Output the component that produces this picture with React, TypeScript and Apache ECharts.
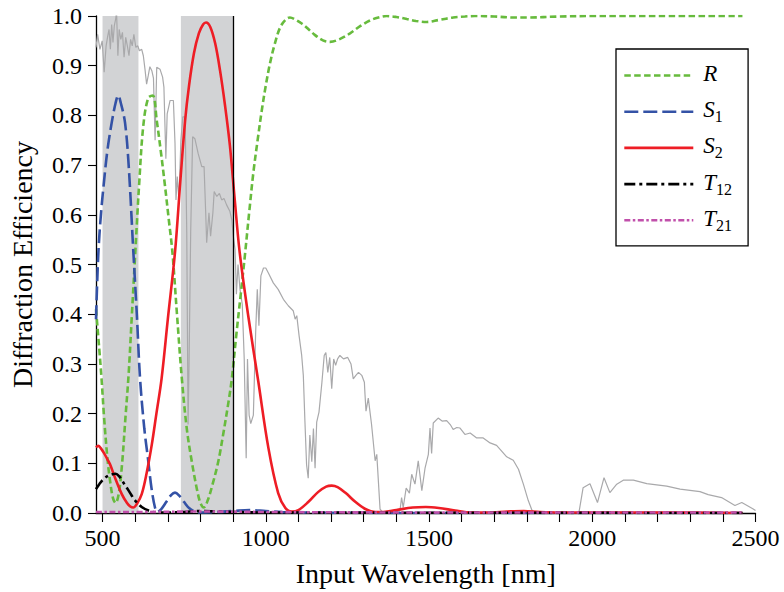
import React, { useEffect, useRef } from "react";
import * as echarts from "echarts";

// ---- tick values ----
const xTickValues = [500, 600, 700, 800, 900, 1000, 1100, 1200, 1300, 1400, 1500, 1600, 1700, 1800, 1900, 2000, 2100, 2200, 2300, 2400, 2500];
const xLabelValues = [500, 1000, 1500, 2000, 2500];
const yTickValues = [0, 0.1, 0.2, 0.3, 0.4, 0.5, 0.6, 0.7, 0.8, 0.9, 1.0];

// ---- shaded bands and marker line (nm) ----
const bands = [[500, 610], [740, 900]];
const markerLineNm = 900;

// ---- solar spectrum (grey) ----
const solarWl = [480, 485, 492, 499, 505, 511, 516, 520, 524, 528, 532, 536, 540, 543, 547, 551, 556, 561, 566, 571, 576, 581, 586, 591, 596, 602, 608, 613, 620, 625, 630, 635, 640, 645, 651, 656, 661, 666, 676, 684, 688, 694, 698, 707, 717, 722, 725, 729, 734, 740, 746, 753, 758, 762, 765, 770, 776, 783, 793, 804, 811, 816, 819, 826, 831, 838, 842, 850, 858, 865, 872, 880, 890, 896, 900, 906, 910, 915, 921, 928, 934, 940, 944, 949, 954, 962, 969, 974, 979, 985, 993, 1000, 1008, 1023, 1038, 1054, 1069, 1084, 1090, 1095, 1102, 1110, 1115, 1120, 1125, 1130, 1135, 1141, 1146, 1151, 1156, 1163, 1172, 1179, 1184, 1190, 1196, 1202, 1208, 1214, 1220, 1227, 1238, 1251, 1261, 1268, 1276, 1284, 1294, 1302, 1304, 1307, 1314, 1324, 1335, 1340, 1350, 1360, 1405, 1411, 1416, 1421, 1430, 1440, 1447, 1457, 1467, 1478, 1488, 1498, 1503, 1508, 1513, 1528, 1540, 1554, 1565, 1574, 1585, 1595, 1610, 1626, 1646, 1666, 1687, 1707, 1738, 1758, 1774, 1789, 1804, 1815, 1825, 1950, 1960, 1972, 1993, 2016, 2036, 2054, 2075, 2095, 2126, 2167, 2228, 2269, 2330, 2355, 2396, 2437, 2458, 2493, 2500];
const solarVal = [0.937, 0.963, 0.933, 0.95, 0.887, 0.94, 0.96, 0.973, 0.933, 0.983, 0.947, 0.98, 0.993, 1.008, 0.92, 0.973, 0.953, 0.967, 0.917, 0.957, 0.94, 0.92, 0.953, 0.94, 0.963, 0.937, 0.94, 0.93, 0.933, 0.92, 0.893, 0.863, 0.88, 0.898, 0.89, 0.875, 0.75, 0.897, 0.893, 0.877, 0.857, 0.713, 0.803, 0.83, 0.83, 0.744, 0.63, 0.677, 0.63, 0.75, 0.797, 0.797, 0.564, 0.178, 0.3, 0.564, 0.757, 0.753, 0.723, 0.697, 0.697, 0.604, 0.544, 0.604, 0.557, 0.604, 0.647, 0.637, 0.643, 0.63, 0.633, 0.62, 0.607, 0.59, 0.56, 0.53, 0.44, 0.5, 0.45, 0.42, 0.31, 0.11, 0.31, 0.197, 0.18, 0.197, 0.363, 0.45, 0.377, 0.477, 0.493, 0.493, 0.483, 0.463, 0.45, 0.43, 0.417, 0.407, 0.39, 0.397, 0.357, 0.317, 0.277, 0.183, 0.097, 0.07, 0.157, 0.103, 0.17, 0.09, 0.183, 0.203, 0.263, 0.317, 0.323, 0.283, 0.313, 0.25, 0.31, 0.297, 0.31, 0.317, 0.31, 0.313, 0.3, 0.27, 0.277, 0.283, 0.277, 0.263, 0.238, 0.205, 0.231, 0.178, 0.105, 0.118, 0.008, 0, 0, 0.005, 0.031, 0.011, 0.05, 0.04, 0.078, 0.058, 0.105, 0.045, 0.091, 0.118, 0.171, 0.12, 0.181, 0.191, 0.185, 0.186, 0.178, 0.168, 0.172, 0.171, 0.158, 0.161, 0.151, 0.151, 0.141, 0.136, 0.113, 0.106, 0.088, 0.058, 0.025, 0.006, 0, 0, 0.004, 0.051, 0.059, 0.021, 0.071, 0.041, 0.058, 0.066, 0.066, 0.059, 0.054, 0.048, 0.043, 0.037, 0.031, 0.015, 0.021, 0.008, 0.005];

// ---- R ----
const rWl = [480, 490, 497, 505, 515, 523, 532, 540, 550, 560, 570, 580, 590, 600, 612, 625, 640, 654, 666, 680, 691, 703, 714, 728, 743, 758, 773, 790, 800, 810, 822, 838, 855, 870, 885, 896, 910, 925, 936, 950, 962, 975, 988, 1000, 1013, 1028, 1044, 1060, 1074, 1090, 1110, 1125, 1150, 1175, 1197, 1225, 1258, 1290, 1319, 1345, 1370, 1400, 1432, 1460, 1493, 1530, 1574, 1610, 1640, 1700, 1760, 1800, 1900, 2000, 2200, 2460];
const rVal = [0.41, 0.33, 0.27, 0.19, 0.11, 0.065, 0.03, 0.02, 0.04, 0.1, 0.19, 0.28, 0.4, 0.52, 0.66, 0.78, 0.835, 0.84, 0.79, 0.72, 0.66, 0.59, 0.525, 0.4, 0.27, 0.17, 0.105, 0.045, 0.02, 0.011, 0.025, 0.06, 0.105, 0.16, 0.22, 0.27, 0.36, 0.45, 0.518, 0.61, 0.685, 0.75, 0.811, 0.86, 0.905, 0.945, 0.977, 0.992, 0.997, 0.993, 0.985, 0.977, 0.962, 0.951, 0.948, 0.953, 0.965, 0.98, 0.991, 0.997, 1.0, 0.998, 0.994, 0.99, 0.988, 0.992, 0.997, 0.999, 1.0, 0.999, 0.997, 0.997, 0.999, 1.0, 1.0, 1.0];

// ---- S1 ----
const s1Wl = [480, 487, 495, 505, 515, 528, 540, 548, 556, 569, 580, 594, 605, 615, 628, 640, 650, 661, 668, 680, 695, 710, 722, 735, 750, 765, 783, 800, 850, 900, 950, 1000, 1050, 1100, 1500, 2460];
const s1Val = [0.39, 0.52, 0.6, 0.67, 0.73, 0.785, 0.825, 0.84, 0.825, 0.785, 0.7, 0.53, 0.4, 0.27, 0.17, 0.105, 0.05, 0.01, 0.002, 0.008, 0.022, 0.036, 0.041, 0.035, 0.022, 0.01, 0.003, 0.001, 0.002, 0.004, 0.006, 0.004, 0.002, 0.001, 0, 0];

// ---- S2 ----
const s2Wl = [480, 487, 495, 505, 515, 523, 540, 559, 575, 585, 594, 605, 620, 635, 651, 665, 681, 700, 722, 738, 753, 765, 780, 795, 808, 817, 830, 845, 860, 875, 890, 905, 920, 946, 977, 1008, 1038, 1060, 1080, 1100, 1130, 1160, 1185, 1202, 1220, 1245, 1275, 1305, 1335, 1360, 1400, 1450, 1490, 1530, 1580, 1630, 1680, 1740, 1790, 1840, 1900, 2000, 2100, 2200, 2460];
const s2Val = [0.132, 0.135, 0.13, 0.12, 0.108, 0.098, 0.068, 0.038, 0.02, 0.013, 0.011, 0.018, 0.038, 0.08, 0.138, 0.2, 0.271, 0.39, 0.525, 0.665, 0.79, 0.86, 0.925, 0.965, 0.983, 0.987, 0.978, 0.945, 0.89, 0.821, 0.74, 0.63, 0.525, 0.398, 0.265, 0.131, 0.04, 0.01, 0.003, 0.006, 0.022, 0.042, 0.053, 0.055, 0.052, 0.04, 0.022, 0.008, 0.002, 0.002, 0.006, 0.011, 0.012, 0.01, 0.005, 0.001, 0.001, 0.003, 0.004, 0.002, 0.001, 0.001, 0.001, 0.001, 0];

// ---- T12 ----
const t12Wl = [480, 490, 500, 515, 530, 540, 552, 565, 580, 600, 620, 645, 670, 700, 750, 800, 850, 900, 1000, 2460];
const t12Val = [0.048, 0.058, 0.066, 0.074, 0.078, 0.079, 0.073, 0.06, 0.045, 0.025, 0.012, 0.004, 0.001, 0.001, 0.002, 0.004, 0.003, 0.002, 0.001, 0];

// ---- T21 ----
const t21Wl = [480, 600, 800, 1000, 1500, 2000, 2460];
const t21Val = [0.002, 0.002, 0.003, 0.002, 0.001, 0.001, 0.001];

const FONT = "'Liberation Serif', 'Times New Roman', serif";

const pairs = (xs: number[], ys: number[]) => xs.map((x, i) => [x, ys[i]]);

export default function App() {
  const ref = useRef<HTMLDivElement>(null);

  useEffect(() => {
    if (!ref.current) return;
    const chart = echarts.init(ref.current, undefined, { renderer: "svg" });

    const curve = (name: string, xs: number[], ys: number[], color: string, type: any, width = 2.6) => ({
      name,
      type: "line",
      data: pairs(xs, ys),
      showSymbol: false,
      symbol: "none",
      smooth: 0.35,
      clip: true,
      lineStyle: { color, width, type },
      itemStyle: { color },
    });

    chart.setOption({
      animation: false,
      backgroundColor: "#ffffff",
      grid: { left: 96, right: 28.5, top: 16, bottom: 76.5, containLabel: false },
      xAxis: {
        type: "value",
        min: 480,
        max: 2500,
        name: "Input Wavelength [nm]",
        nameLocation: "middle",
        nameGap: 46,
        nameTextStyle: { fontFamily: FONT, fontSize: 28, color: "#000" },
        axisLine: { show: true, onZero: false, lineStyle: { color: "#000", width: 1.3 } },
        axisTick: { show: true, inside: false, length: 9, customValues: xTickValues, lineStyle: { color: "#000", width: 1.1 } },
        axisLabel: {
          customValues: xLabelValues,
          fontFamily: FONT,
          fontSize: 24,
          color: "#000",
          margin: 13,
          formatter: (v: number) => String(v),
        },
        splitLine: { show: false },
      },
      yAxis: {
        type: "value",
        min: 0,
        max: 1,
        name: "Diffraction Efficiency",
        nameLocation: "middle",
        nameGap: 60,
        nameTextStyle: { fontFamily: FONT, fontSize: 28, color: "#000" },
        axisLine: { show: true, onZero: false, lineStyle: { color: "#000", width: 1.3 } },
        axisTick: { show: true, inside: false, length: 8, customValues: yTickValues, lineStyle: { color: "#000", width: 1.1 } },
        axisLabel: {
          customValues: yTickValues,
          fontFamily: FONT,
          fontSize: 24,
          color: "#000",
          margin: 14,
          formatter: (v: number) => v.toFixed(1),
        },
        splitLine: { show: false },
      },
      legend: {
        orient: "vertical",
        left: 616,
        top: 49,
        data: ["R", "S1", "S2", "T12", "T21"],
        itemWidth: 69,
        itemHeight: 20,
        itemGap: 9.2,
        padding: [13, 16, 12, 7],
        borderColor: "#000",
        borderWidth: 1.3,
        borderRadius: 0,
        backgroundColor: "#ffffff",
        itemStyle: { opacity: 0 },
        lineStyle: { width: 2.6 },
        formatter: (name: string) =>
          name.length === 1 ? `{i|${name}}` : `{i|${name[0]}}{s|${name.slice(1)}}`,
        textStyle: {
          padding: [0, 0, 0, 5],
          rich: {
            i: { fontFamily: FONT, fontStyle: "italic", fontSize: 23, color: "#000", lineHeight: 20, padding: [0, 0, 4, 0] },
            s: { fontFamily: FONT, fontSize: 16, color: "#000", lineHeight: 14, padding: [10, 0, 0, 0] },
          },
        },
      },
      series: [
        {
          name: "solar",
          type: "line",
          data: pairs(solarWl, solarVal),
          showSymbol: false,
          symbol: "none",
          clip: true,
          lineStyle: { color: "#a9a9ab", width: 1.2 },
          itemStyle: { color: "#a9a9ab" },
          markArea: {
            silent: true,
            z: 1,
            itemStyle: { color: "#d2d3d5", opacity: 1 },
            data: bands.map(([a, b]) => [{ xAxis: a }, { xAxis: b }]),
          },
          markLine: {
            silent: true,
            symbol: "none",
            label: { show: false },
            lineStyle: { color: "#000", width: 1.3, type: "solid" },
            data: [{ xAxis: markerLineNm }],
          },
        },
        curve("R", rWl, rVal, "#67bb3d", [6.5, 3.4]),
        curve("S1", s1Wl, s1Val, "#3452a6", [14, 5]),
        curve("S2", s2Wl, s2Val, "#ee1d25", "solid"),
        curve("T12", t12Wl, t12Val, "#000000", [11, 4, 3, 4]),
        curve("T21", t21Wl, t21Val, "#c150ab", [6, 2.5, 2.5, 2.5]),
      ],
    });

    return () => chart.dispose();
  }, []);

  return (
    <div
      ref={ref}
      style={{ position: "absolute", left: 0, top: 0, width: 784, height: 592, background: "#fff" }}
    />
  );
}
